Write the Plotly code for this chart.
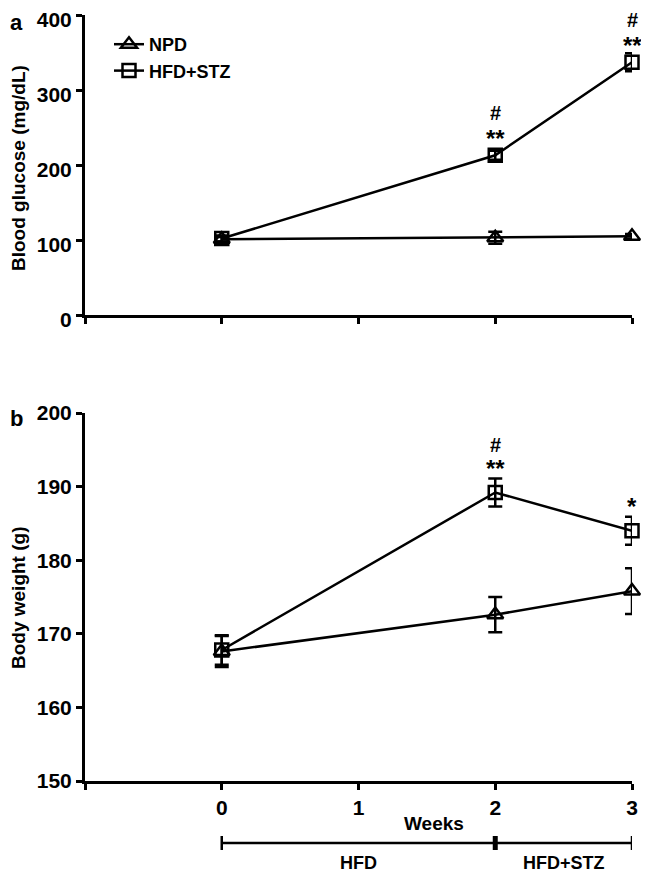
import plotly.graph_objects as go

weeks = [0, 2, 3]

# Panel a: blood glucose (mg/dL)
glu_npd = [101, 103, 105]
glu_npd_err = [3, 8, 3]
glu_hfd = [102, 213, 337]
glu_hfd_err = [4, 6, 12]
glu_sig_star = ["", "**", "**"]
glu_sig_hash = ["", "#", "#"]

# Panel b: body weight (g)
bw_npd = [167.6, 172.6, 175.8]
bw_npd_err = [2.1, 2.4, 3.1]
bw_hfd = [167.8, 189.2, 184.0]
bw_hfd_err = [2.0, 1.9, 1.9]
bw_sig_star = ["", "**", "*"]
bw_sig_hash = ["", "#", ""]

phases = [("HFD", 0, 2), ("HFD+STZ", 2, 3)]

FONT = "Liberation Sans, Arial, sans-serif"
BLACK = "black"
OFF = 8  # page body margin
W = 649.0 - OFF
H = 878.0 - OFF

def px(x):
    return (x - OFF) / W

def py(y):
    return 1 - (y - OFF) / H

fig = go.Figure()

def add_series(x, y, err, name, symbol, size, xa, ya, show):
    fig.add_trace(go.Scatter(
        x=x, y=y, name=name, mode="lines+markers",
        xaxis=xa, yaxis=ya, showlegend=show, cliponaxis=False,
        line=dict(color=BLACK, width=2.5),
        marker=dict(symbol=symbol, size=size, color=BLACK, line=dict(color=BLACK, width=2.5)),
        error_y=dict(type="data", array=err, visible=True, color=BLACK, thickness=2.5, width=7),
    ))

add_series(weeks, glu_npd, glu_npd_err, "<b>NPD</b>", "triangle-up-open", 14, "x", "y", True)
add_series(weeks, glu_hfd, glu_hfd_err, "<b>HFD+STZ</b>", "square-open", 13, "x", "y", True)
add_series(weeks, bw_npd, bw_npd_err, "NPD", "triangle-up-open", 14, "x2", "y2", False)
add_series(weeks, bw_hfd, bw_hfd_err, "HFD+STZ", "square-open", 13, "x2", "y2", False)

ann = []
def sig(x, y, stars, hashes, xr, yr, s_shift, h_shift):
    for xi, yi, st, hs in zip(x, y, stars, hashes):
        if st:
            ann.append(dict(x=xi, y=yi, xref=xr, yref=yr, text="<b>%s</b>" % st, showarrow=False,
                            xanchor="center", yanchor="middle",
                            yshift=s_shift, font=dict(family=FONT, size=24, color=BLACK)))
        if hs:
            ann.append(dict(x=xi, y=yi, xref=xr, yref=yr, text="<b>%s</b>" % hs, showarrow=False,
                            xanchor="center", yanchor="middle",
                            yshift=h_shift, font=dict(family=FONT, size=20, color=BLACK)))

sig(weeks, glu_hfd, glu_sig_star, glu_sig_hash, "x", "y", 17, 42)
sig(weeks, bw_hfd, bw_sig_star, bw_sig_hash, "x2", "y2", 24, 47)

def paper_text(x, y, text, size, angle=0):
    ann.append(dict(x=px(x), y=py(y), xref="paper", yref="paper", text=text, showarrow=False,
                    xanchor="center", yanchor="middle", textangle=angle,
                    font=dict(family=FONT, size=size, color=BLACK)))

# panel letters (kept just inside the page)
for letter, top in (("a", 8), ("b", 404)):
    ann.append(dict(x=0, y=py(top), xref="paper", yref="paper", text="<b>%s</b>" % letter,
                    showarrow=False, xanchor="left", yanchor="top",
                    font=dict(family=FONT, size=22, color=BLACK)))
# y titles
paper_text(18, 168, "<b>Blood glucose (mg/dL)</b>", 19, -90)
paper_text(18, 598, "<b>Body weight (g)</b>", 19, -90)

# Weeks title
ann.append(dict(x=1.55, y=py(823), xref="x2", yref="paper", text="<b>Weeks</b>", showarrow=False,
                xanchor="center", yanchor="middle", font=dict(family=FONT, size=19, color=BLACK)))

# timeline
line_y = py(843)
shapes = []
for label, a, b in phases:
    shapes.append(dict(type="line", xref="x2", yref="paper", x0=a, x1=b, y0=line_y, y1=line_y,
                       line=dict(color=BLACK, width=2.5)))
    ann.append(dict(x=(a + b) / 2, y=py(863), xref="x2", yref="paper", text="<b>%s</b>" % label,
                    showarrow=False, xanchor="center", yanchor="middle",
                    font=dict(family=FONT, size=18, color=BLACK)))
bounds = sorted(set([p[1] for p in phases] + [p[2] for p in phases]))
for i, bx in enumerate(bounds):
    w = 5 if 0 < i < len(bounds) - 1 else 2.5
    shapes.append(dict(type="line", xref="x2", yref="paper", x0=bx, x1=bx,
                       y0=line_y - 7 / H, y1=line_y + 7 / H, line=dict(color=BLACK, width=w)))

xcommon = dict(range=[-1, 3], showline=True, linecolor=BLACK, linewidth=3, ticks="outside",
               ticklen=6, tickwidth=3, tickcolor=BLACK, tickvals=[-1, 0, 1, 2, 3],
               showgrid=False, zeroline=False, fixedrange=True, automargin=False,
               domain=[px(85), px(632)])
ycommon = dict(showline=True, linecolor=BLACK, linewidth=3, ticks="outside", ticklen=6, tickwidth=3,
               tickcolor=BLACK, showgrid=False, zeroline=False, automargin=False,
               ticklabeloverflow="allow",
               tickfont=dict(family=FONT, size=21, color=BLACK))

fig.update_layout(
    width=W, height=H,
    margin=dict(l=0, r=0, t=0, b=0),
    paper_bgcolor="white", plot_bgcolor="white",
    font=dict(family=FONT, color=BLACK),
    showlegend=True,
    legend=dict(x=101 / W, y=1 - 18 / H, xanchor="left", yanchor="top",
                font=dict(family=FONT, size=18, color=BLACK), bgcolor="rgba(0,0,0,0)",
                tracegroupgap=0, itemwidth=30),
    xaxis=dict(**xcommon, anchor="y", showticklabels=False),
    yaxis=dict(**ycommon, range=[0, 400], tickvals=[0, 100, 200, 300, 400],
               ticktext=["<b>%d</b>" % v for v in [0, 100, 200, 300, 400]],
               ticklabelshift=5,
               domain=[py(315), py(15)], anchor="x"),
    xaxis2=dict(**xcommon, anchor="y2", ticktext=["", "<b>0</b>", "<b>1</b>", "<b>2</b>", "<b>3</b>"],
                tickfont=dict(family=FONT, size=21, color=BLACK)),
    yaxis2=dict(**ycommon, range=[150, 200], tickvals=[150, 160, 170, 180, 190, 200],
                ticktext=["<b>%d</b>" % v for v in [150, 160, 170, 180, 190, 200]],
                domain=[py(781), py(413)], anchor="x2"),
    annotations=ann,
    shapes=shapes,
)

fig.write_html("out.html")
